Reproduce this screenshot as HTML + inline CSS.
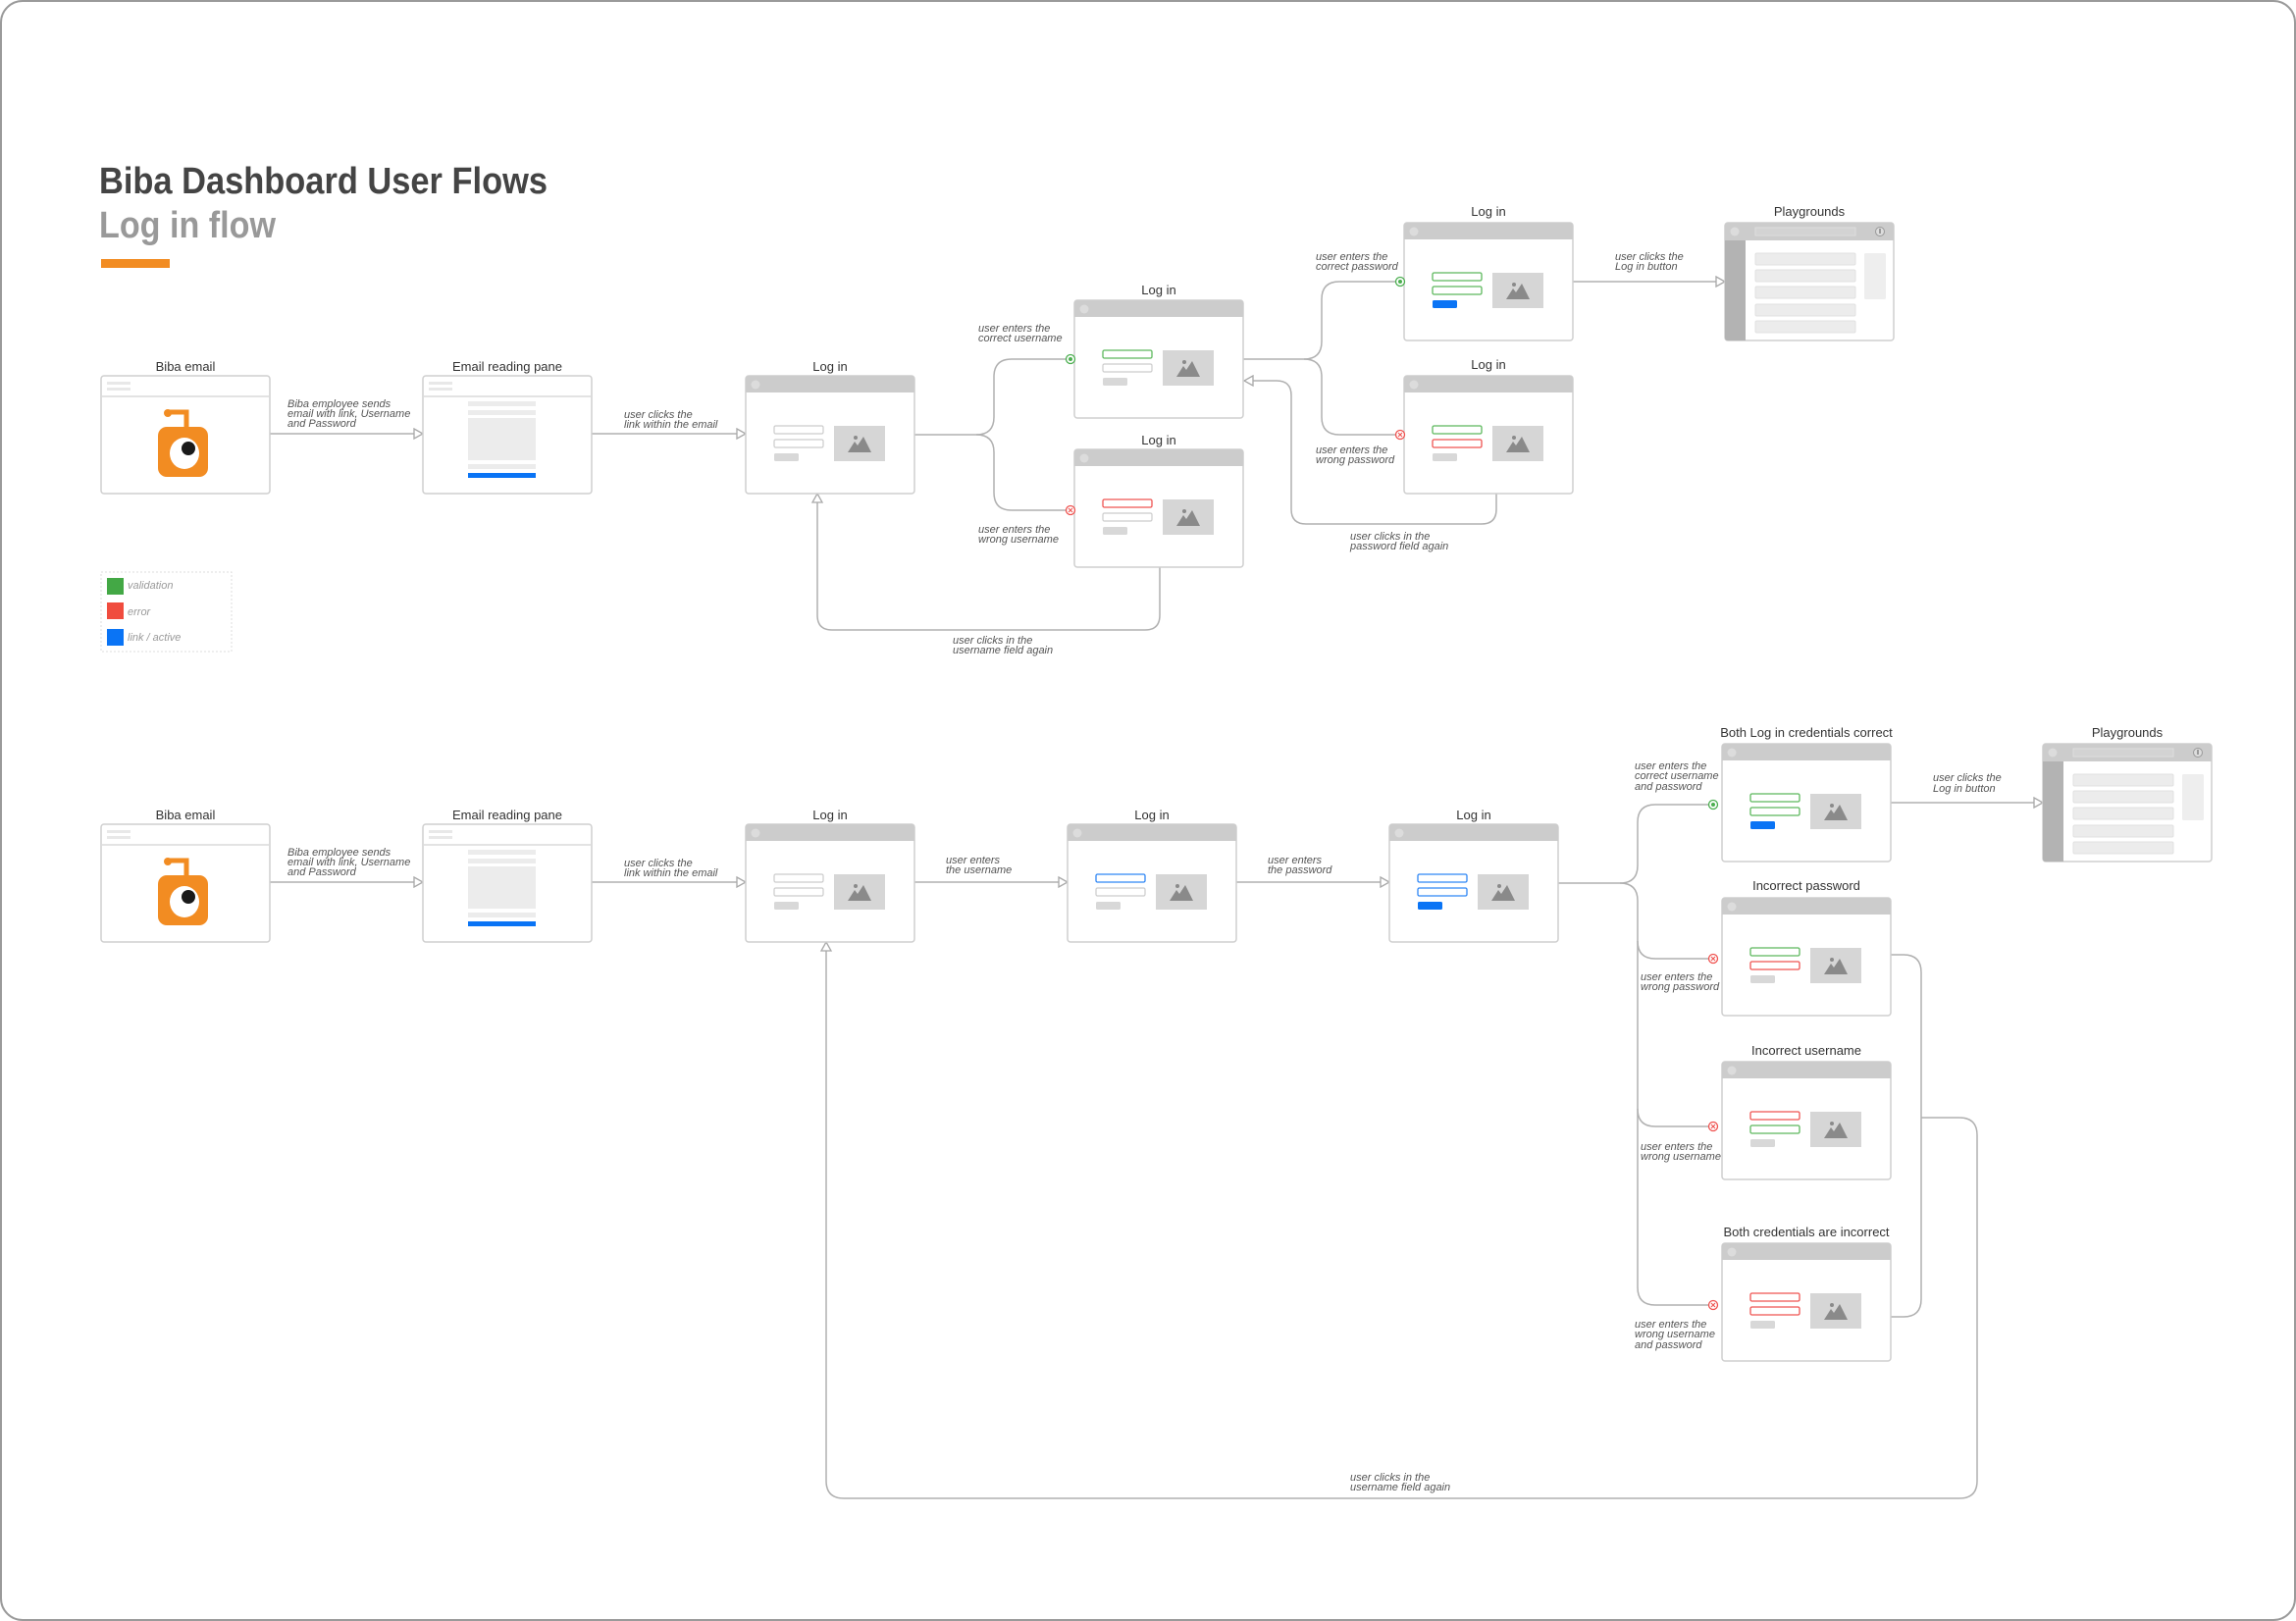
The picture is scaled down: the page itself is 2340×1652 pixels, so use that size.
<!DOCTYPE html>
<html><head><meta charset="utf-8"><style>
html,body{margin:0;padding:0;background:#fff;}
svg{display:block;}
.t{font-family:"Liberation Sans Narrow","Liberation Sans",sans-serif;font-size:13px;fill:#333;text-anchor:middle;}
.l{font-family:"Liberation Sans Narrow","Liberation Sans",sans-serif;font-size:11px;font-style:italic;fill:#555;}
.c{fill:none;stroke:#b0b0b0;stroke-width:1.5;}
.a{fill:#fff;stroke:#a8a8a8;stroke-width:1.3;}
</style></head><body>
<svg width="2340" height="1652" viewBox="0 0 2340 1652" xmlns="http://www.w3.org/2000/svg">
<defs>
  <g id="frame"><rect x="0" y="0" width="172" height="120" rx="3" fill="#fff" stroke="#cfcfcf" stroke-width="1.5"/></g>
  <g id="hdr"><path d="M0,3 Q0,0 3,0 H169 Q172,0 172,3 V17 H0 Z" fill="#cccccc"/><circle cx="10" cy="9" r="4.5" fill="#dcdcdc"/></g>
  <g id="img"><rect x="90" y="51" width="52" height="36" fill="#d6d6d6"/><polygon points="104,78 111,67 114,71 120,62 128,78" fill="#8a8a8a"/><circle cx="112" cy="63" r="2" fill="#8a8a8a"/></g>
  <g id="login"><use href="#frame"/><use href="#hdr"/><use href="#img"/></g>
  <g id="email"><use href="#frame"/><rect x="6" y="6" width="24" height="3" fill="#e8e8e8"/><rect x="6" y="12" width="24" height="3" fill="#e8e8e8"/><line x1="1" y1="21" x2="171" y2="21" stroke="#e3e3e3" stroke-width="2"/></g>
  <g id="play"><use href="#frame"/><path d="M0,3 Q0,0 3,0 H169 Q172,0 172,3 V18 H0 Z" fill="#cccccc"/><circle cx="10" cy="9" r="4.5" fill="#dcdcdc"/><rect x="31" y="5" width="102" height="8" fill="#d3d3d3" stroke="#dedede"/><circle cx="158" cy="9" r="4.5" fill="#ddd" stroke="#999" stroke-width="1"/><rect x="157" y="6" width="2" height="5" fill="#999"/><path d="M0,18 H21 V120 H3 Q0,120 0,117 Z" fill="#b3b3b3"/>
    <rect x="31" y="31" width="102" height="12" rx="1.5" fill="#ececec" stroke="#e0e0e0"/><rect x="31" y="48" width="102" height="12" rx="1.5" fill="#ececec" stroke="#e0e0e0"/><rect x="31" y="65" width="102" height="12" rx="1.5" fill="#ececec" stroke="#e0e0e0"/><rect x="31" y="83" width="102" height="12" rx="1.5" fill="#ececec" stroke="#e0e0e0"/><rect x="31" y="100" width="102" height="12" rx="1.5" fill="#ececec" stroke="#e0e0e0"/><rect x="142" y="31" width="22" height="47" rx="1.5" fill="#eeeeee"/></g>
  <g id="logo"><path d="M70,37 H87 V52" fill="none" stroke="#f28c22" stroke-width="5"/><circle cx="68" cy="38" r="4" fill="#f28c22"/><rect x="58" y="52" width="51" height="51" rx="9" fill="#f28c22"/><ellipse cx="85" cy="79" rx="15" ry="16" fill="#fff"/><circle cx="89" cy="74" r="7" fill="#1a1a1a"/></g>
  <g id="pane"><use href="#email"/><rect x="46" y="26" width="69" height="5" fill="#ececec"/><rect x="46" y="35" width="69" height="5" fill="#ececec"/><rect x="46" y="43" width="69" height="43" fill="#ececec"/><rect x="46" y="90" width="69" height="5" fill="#ececec"/><rect x="46" y="99" width="69" height="5" fill="#0a74f5"/></g>
  <g id="gdot"><circle r="4.5" fill="#fff" stroke="#4caf50" stroke-width="1.3"/><circle r="2" fill="#4caf50"/></g>
  <g id="rdot"><circle r="4.5" fill="#fff" stroke="#ef5350" stroke-width="1.3"/><path d="M-2,-2 L2,2 M2,-2 L-2,2" stroke="#ef5350" stroke-width="1.1"/></g>
  <rect id="ig" x="0" y="0" width="50" height="8" rx="1.5" fill="#fff" stroke="#cccccc" stroke-width="1.2"/>
  <rect id="igr" x="0" y="0" width="50" height="8" rx="1.5" fill="#fff" stroke="#5cb85c" stroke-width="1.3"/>
  <rect id="ir" x="0" y="0" width="50" height="8" rx="1.5" fill="#fff" stroke="#ef5350" stroke-width="1.3"/>
  <rect id="ib" x="0" y="0" width="50" height="8" rx="1.5" fill="#fff" stroke="#2e86f5" stroke-width="1.3"/>
  <rect id="bg" x="0" y="0" width="25" height="8" rx="1.5" fill="#d8d8d8"/>
  <rect id="bb" x="0" y="0" width="25" height="8" rx="1.5" fill="#0a74f5"/>
</defs>

<rect x="1" y="1" width="2338" height="1650" rx="22" fill="#fff" stroke="#9a9a9a" stroke-width="2"/>

<text x="101" y="197" font-family="'Liberation Sans Narrow','Liberation Sans',sans-serif" font-weight="bold" font-size="38" fill="#444" textLength="457" lengthAdjust="spacingAndGlyphs">Biba Dashboard User Flows</text>
<text x="101" y="242" font-family="'Liberation Sans Narrow','Liberation Sans',sans-serif" font-weight="bold" font-size="38" fill="#999" textLength="180" lengthAdjust="spacingAndGlyphs">Log in flow</text>
<rect x="103" y="264" width="70" height="9" fill="#f28c22"/>

<!-- Legend -->
<rect x="103" y="583" width="133" height="81" fill="#fff" stroke="#ddd" stroke-dasharray="2,2"/>
<rect x="109" y="589" width="17" height="17" fill="#43a845"/>
<rect x="109" y="614" width="17" height="17" fill="#f04c3e"/>
<rect x="109" y="641" width="17" height="17" fill="#0a74f5"/>
<text class="l" x="130" y="600" fill="#999" style="fill:#9a9a9a">validation</text>
<text class="l" x="130" y="627" style="fill:#9a9a9a">error</text>
<text class="l" x="130" y="653" style="fill:#9a9a9a">link / active</text>

<!-- ROW 1 connectors -->
<path class="c" d="M275,442 H431"/><polygon class="a" points="422,437 431,442 422,447"/>
<path class="c" d="M603,442 H760"/><polygon class="a" points="751,437 760,442 751,447"/>
<path class="c" d="M932,443 H995 Q1013,443 1013,425 V384 Q1013,366 1031,366 H1087"/>
<path class="c" d="M995,443 Q1013,443 1013,461 V502 Q1013,520 1031,520 H1087"/>
<path class="c" d="M1267,366 H1329 Q1347,366 1347,348 V305 Q1347,287 1365,287 H1423"/>
<path class="c" d="M1329,366 Q1347,366 1347,384 V425 Q1347,443 1365,443 H1423"/>
<path class="c" d="M1525,503 V519 Q1525,534 1510,534 H1331 Q1316,534 1316,519 V403 Q1316,388 1301,388 H1268"/><polygon class="a" points="1277,383 1268,388 1277,393"/>
<path class="c" d="M1603,287 H1758"/><polygon class="a" points="1749,282 1758,287 1749,292"/>
<path class="c" d="M1182,578 V627 Q1182,642 1167,642 H848 Q833,642 833,627 V504"/><polygon class="a" points="828,512 833,503 838,512"/>

<!-- ROW 1 labels -->
<text class="l" x="293" y="415">Biba employee sends</text><text class="l" x="293" y="425">email with link, Username</text><text class="l" x="293" y="435">and Password</text>
<text class="l" x="636" y="426">user clicks the</text><text class="l" x="636" y="436">link within the email</text>
<text class="l" x="997" y="338">user enters the</text><text class="l" x="997" y="348">correct username</text>
<text class="l" x="997" y="543">user enters the</text><text class="l" x="997" y="553">wrong username</text>
<text class="l" x="1341" y="265">user enters the</text><text class="l" x="1341" y="275">correct password</text>
<text class="l" x="1341" y="462">user enters the</text><text class="l" x="1341" y="472">wrong password</text>
<text class="l" x="1376" y="550">user clicks in the</text><text class="l" x="1376" y="560">password field again</text>
<text class="l" x="1646" y="265">user clicks the</text><text class="l" x="1646" y="275">Log in button</text>
<text class="l" x="971" y="656">user clicks in the</text><text class="l" x="971" y="666">username field again</text>

<!-- ROW 1 boxes -->
<text class="t" x="189" y="378">Biba email</text>
<g transform="translate(103,383)"><use href="#email"/><use href="#logo"/></g>
<text class="t" x="517" y="378">Email reading pane</text>
<g transform="translate(431,383)"><use href="#pane"/></g>
<text class="t" x="846" y="378">Log in</text>
<g transform="translate(760,383)"><use href="#login"/><use href="#ig" x="29" y="51"/><use href="#ig" x="29" y="65"/><use href="#bg" x="29" y="79"/></g>
<text class="t" x="1181" y="300">Log in</text>
<g transform="translate(1095,306)"><use href="#login"/><use href="#igr" x="29" y="51"/><use href="#ig" x="29" y="65"/><use href="#bg" x="29" y="79"/></g>
<text class="t" x="1181" y="453">Log in</text>
<g transform="translate(1095,458)"><use href="#login"/><use href="#ir" x="29" y="51"/><use href="#ig" x="29" y="65"/><use href="#bg" x="29" y="79"/></g>
<text class="t" x="1517" y="220">Log in</text>
<g transform="translate(1431,227)"><use href="#login"/><use href="#igr" x="29" y="51"/><use href="#igr" x="29" y="65"/><use href="#bb" x="29" y="79"/></g>
<text class="t" x="1517" y="376">Log in</text>
<g transform="translate(1431,383)"><use href="#login"/><use href="#igr" x="29" y="51"/><use href="#ir" x="29" y="65"/><use href="#bg" x="29" y="79"/></g>
<text class="t" x="1844" y="220">Playgrounds</text>
<g transform="translate(1758,227)"><use href="#play"/></g>
<use href="#gdot" x="1091" y="366"/><use href="#rdot" x="1091" y="520"/>
<use href="#gdot" x="1427" y="287"/><use href="#rdot" x="1427" y="443"/>

<!-- ROW 2 connectors -->
<path class="c" d="M275,899 H431"/><polygon class="a" points="422,894 431,899 422,904"/>
<path class="c" d="M603,899 H760"/><polygon class="a" points="751,894 760,899 751,904"/>
<path class="c" d="M932,899 H1088"/><polygon class="a" points="1079,894 1088,899 1079,904"/>
<path class="c" d="M1260,899 H1416"/><polygon class="a" points="1407,894 1416,899 1407,904"/>
<path class="c" d="M1588,900 H1651 Q1669,900 1669,882 V838 Q1669,820 1687,820 H1742"/>
<path class="c" d="M1651,900 Q1669,900 1669,918 V1312 Q1669,1330 1687,1330 H1742"/>
<path class="c" d="M1669,959 Q1669,977 1687,977 H1742"/>
<path class="c" d="M1669,1130 Q1669,1148 1687,1148 H1742"/>
<path class="c" d="M1927,818 H2082"/><polygon class="a" points="2073,813 2082,818 2073,823"/>
<path class="c" d="M1927,973 H1940 Q1958,973 1958,991 V1324 Q1958,1342 1940,1342 H1927"/>
<path class="c" d="M1958,1139 H1997 Q2015,1139 2015,1157 V1509 Q2015,1527 1997,1527 H860 Q842,1527 842,1509 V961"/><polygon class="a" points="837,969 842,960 847,969"/>

<!-- ROW 2 labels -->
<text class="l" x="293" y="872">Biba employee sends</text><text class="l" x="293" y="882">email with link, Username</text><text class="l" x="293" y="892">and Password</text>
<text class="l" x="636" y="883">user clicks the</text><text class="l" x="636" y="893">link within the email</text>
<text class="l" x="964" y="880">user enters</text><text class="l" x="964" y="890">the username</text>
<text class="l" x="1292" y="880">user enters</text><text class="l" x="1292" y="890">the password</text>
<text class="l" x="1666" y="784">user enters the</text><text class="l" x="1666" y="794">correct username</text><text class="l" x="1666" y="805">and password</text>
<text class="l" x="1672" y="999">user enters the</text><text class="l" x="1672" y="1009">wrong password</text>
<text class="l" x="1672" y="1172">user enters the</text><text class="l" x="1672" y="1182">wrong username</text>
<text class="l" x="1666" y="1353">user enters the</text><text class="l" x="1666" y="1363">wrong username</text><text class="l" x="1666" y="1374">and password</text>
<text class="l" x="1970" y="796">user clicks the</text><text class="l" x="1970" y="807">Log in button</text>
<text class="l" x="1376" y="1509">user clicks in the</text><text class="l" x="1376" y="1519">username field again</text>

<!-- ROW 2 boxes -->
<text class="t" x="189" y="835">Biba email</text>
<g transform="translate(103,840)"><use href="#email"/><use href="#logo"/></g>
<text class="t" x="517" y="835">Email reading pane</text>
<g transform="translate(431,840)"><use href="#pane"/></g>
<text class="t" x="846" y="835">Log in</text>
<g transform="translate(760,840)"><use href="#login"/><use href="#ig" x="29" y="51"/><use href="#ig" x="29" y="65"/><use href="#bg" x="29" y="79"/></g>
<text class="t" x="1174" y="835">Log in</text>
<g transform="translate(1088,840)"><use href="#login"/><use href="#ib" x="29" y="51"/><use href="#ig" x="29" y="65"/><use href="#bg" x="29" y="79"/></g>
<text class="t" x="1502" y="835">Log in</text>
<g transform="translate(1416,840)"><use href="#login"/><use href="#ib" x="29" y="51"/><use href="#ib" x="29" y="65"/><use href="#bb" x="29" y="79"/></g>
<text class="t" x="1841" y="751">Both Log in credentials correct</text>
<g transform="translate(1755,758)"><use href="#login"/><use href="#igr" x="29" y="51"/><use href="#igr" x="29" y="65"/><use href="#bb" x="29" y="79"/></g>
<text class="t" x="1841" y="907">Incorrect password</text>
<g transform="translate(1755,915)"><use href="#login"/><use href="#igr" x="29" y="51"/><use href="#ir" x="29" y="65"/><use href="#bg" x="29" y="79"/></g>
<text class="t" x="1841" y="1075">Incorrect username</text>
<g transform="translate(1755,1082)"><use href="#login"/><use href="#ir" x="29" y="51"/><use href="#igr" x="29" y="65"/><use href="#bg" x="29" y="79"/></g>
<text class="t" x="1841" y="1260">Both credentials are incorrect</text>
<g transform="translate(1755,1267)"><use href="#login"/><use href="#ir" x="29" y="51"/><use href="#ir" x="29" y="65"/><use href="#bg" x="29" y="79"/></g>
<text class="t" x="2168" y="751">Playgrounds</text>
<g transform="translate(2082,758)"><use href="#play"/></g>
<use href="#gdot" x="1746" y="820"/><use href="#rdot" x="1746" y="977"/><use href="#rdot" x="1746" y="1148"/><use href="#rdot" x="1746" y="1330"/>
</svg>
</body></html>
